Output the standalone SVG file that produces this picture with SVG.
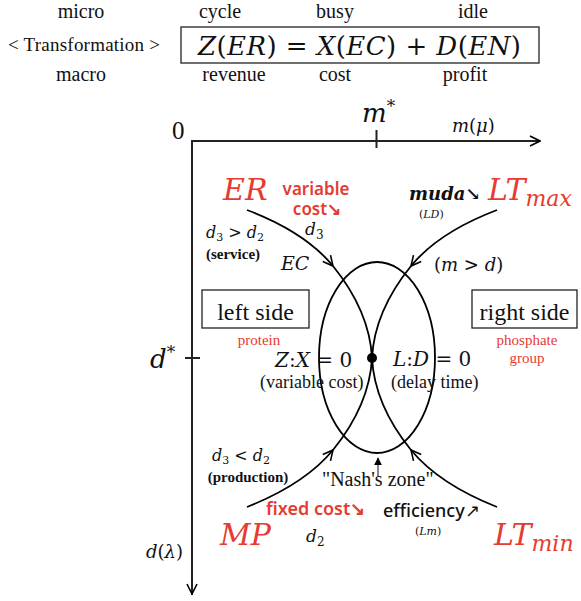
<svg xmlns="http://www.w3.org/2000/svg" width="581" height="601" viewBox="0 0 581 601">
<defs>
<marker id="open" viewBox="0 0 12 12" refX="11" refY="6" markerWidth="12" markerHeight="12" markerUnits="userSpaceOnUse" orient="auto">
<path d="M1,1 L11,6 L1,11" fill="none" stroke="#000" stroke-width="1.6"/>
</marker>
<marker id="small" viewBox="0 0 10 10" refX="9" refY="5" markerWidth="8" markerHeight="8" markerUnits="userSpaceOnUse" orient="auto">
<path d="M0,0 L10,5 L0,10 Z" fill="#000"/>
</marker>
</defs>
<style>
.s{font-family:"Liberation Serif","DejaVu Serif",serif;fill:#111}
.m{font-family:"DejaVu Serif","Liberation Serif",serif;font-style:italic;fill:#111}
.u{font-style:normal}
.r{fill:#e53b31}
.n{font-family:"Noto Sans","Liberation Sans",sans-serif}
.c{text-anchor:middle}
.ln{fill:none;stroke:#000;stroke-width:1.8}
.ax{fill:none;stroke:#222;stroke-width:2}
.box{fill:#fff;stroke:#222;stroke-width:1.3}
</style>

<g id="header">
<text class="s c" x="81" y="18" font-size="20">micro</text>
<text class="s c" x="220" y="18" font-size="20">cycle</text>
<text class="s c" x="335" y="18" font-size="20">busy</text>
<text class="s c" x="473" y="18" font-size="20">idle</text>
<text class="s" x="8" y="51" font-size="19" textLength="152">&lt; Transformation &gt;</text>
<rect class="box" x="181" y="27" width="358" height="36"/>
<text class="m" x="198" y="55" font-size="26" textLength="323"><tspan>Z</tspan><tspan class="u">(</tspan>ER<tspan class="u">) = </tspan>X<tspan class="u">(</tspan>EC<tspan class="u">) + </tspan>D<tspan class="u">(</tspan>EN<tspan class="u">)</tspan></text>
<text class="s c" x="81" y="81" font-size="20">macro</text>
<text class="s c" x="234" y="81" font-size="20">revenue</text>
<text class="s c" x="335" y="81" font-size="20">cost</text>
<text class="s c" x="465" y="81" font-size="20">profit</text>
</g>

<g id="axes">
<path class="ax" d="M192,595 L192,141 L540,141" marker-end="url(#open)"/>
<path class="ax" d="M192,150 L192,594" marker-end="url(#open)"/>
<line class="ax" x1="376.5" y1="130" x2="376.5" y2="148"/>
<line class="ax" x1="185" y1="358" x2="200" y2="358"/>
<text class="s" x="172" y="139" font-size="25">0</text>
<text class="m" x="362" y="122" font-size="26">m<tspan class="u" font-size="17" dy="-10">*</tspan></text>
<text class="m" x="452" y="132" font-size="18">m<tspan class="u">(</tspan>μ<tspan class="u">)</tspan></text>
<text class="m" x="150" y="368" font-size="26">d<tspan class="u" font-size="17" dy="-10">*</tspan></text>
<text class="m" x="146" y="558" font-size="18">d<tspan class="u">(</tspan>λ<tspan class="u">)</tspan></text>
</g>

<g id="connectors">
<ellipse class="ln" cx="377" cy="357.5" rx="58" ry="95.5"/>
<path class="ln" d="M247,210 Q305,232 333,266" marker-end="url(#open)"/>
<path class="ln" d="M333,266 C350,287 370,320 372,358 C374,396 394,429 411,450"/>
<path class="ln" d="M497,507 Q439,484 411,450" marker-end="url(#open)"/>
<path class="ln" d="M497,210 Q439,232 411,266" marker-end="url(#open)"/>
<path class="ln" d="M411,266 C394,287 374,320 372,358 C370,396 350,429 333,450"/>
<path class="ln" d="M247,507 Q305,484 333,450" marker-end="url(#open)"/>
<path d="M378,476 L378,458" stroke="#444" stroke-width="1.3" marker-end="url(#small)"/>
<circle cx="372" cy="358" r="5" fill="#000"/>
</g>

<g id="ER">
<text class="m r" x="223" y="200" font-size="30">ER</text>
<text class="n r c" font-size="17" font-weight="600"><tspan x="316" y="195">variable</tspan><tspan x="317" y="215">cost↘</tspan></text>
<text class="m" x="305" y="235" font-size="17">d<tspan class="u" font-size="12" dy="4">3</tspan></text>
<text class="m" x="206" y="238" font-size="16">d<tspan class="u" font-size="11" dy="3">3</tspan><tspan class="u" dy="-3"> &gt; </tspan>d<tspan class="u" font-size="11" dy="3">2</tspan></text>
<text class="s c" x="233" y="259" font-size="15" font-weight="bold">(service)</text>
<text class="m" x="281" y="270" font-size="19">EC</text>
</g>

<g id="LTmax">
<text class="m" x="409" y="200" font-size="18" font-weight="bold">muda<tspan class="u">↘</tspan></text>
<text class="m" x="419" y="218" font-size="11"><tspan class="u">(</tspan>LD<tspan class="u">)</tspan></text>
<text class="m r" x="488" y="200" font-size="30">LT<tspan font-size="22" dy="6">max</tspan></text>
<text class="m" x="434" y="271" font-size="18"><tspan class="u">(</tspan>m<tspan class="u"> &gt; </tspan>d<tspan class="u">)</tspan></text>
</g>

<g id="left-side">
<rect class="box" x="202" y="290" width="107" height="38"/>
<text class="s c" x="255.5" y="320" font-size="24">left side</text>
<text class="s r c" x="259" y="345" font-size="15">protein</text>
</g>

<g id="right-side">
<rect class="box" x="472" y="290" width="105" height="38"/>
<text class="s c" x="524.5" y="320" font-size="24">right side</text>
<text class="s r c" x="527" y="345" font-size="15">phosphate</text>
<text class="s r c" x="527" y="363" font-size="15">group</text>
</g>

<g id="center">
<text class="m" x="275" y="367" font-size="20">Z<tspan class="u">:</tspan>X<tspan class="u"> = 0</tspan></text>
<text class="s" x="260" y="388" font-size="18">(variable cost)</text>
<text class="m" x="393" y="366" font-size="20">L<tspan class="u">:</tspan>D<tspan class="u"> = 0</tspan></text>
<text class="s" x="391" y="388" font-size="18">(delay time)</text>
</g>

<g id="MP">
<text class="m" x="212" y="461" font-size="16">d<tspan class="u" font-size="11" dy="3">3</tspan><tspan class="u" dy="-3"> &lt; </tspan>d<tspan class="u" font-size="11" dy="3">2</tspan></text>
<text class="s c" x="248" y="482" font-size="15" font-weight="bold">(production)</text>
<text class="n r" x="266" y="515" font-size="18" font-weight="600">fixed cost↘</text>
<text class="m" x="306" y="542" font-size="17">d<tspan class="u" font-size="12" dy="4">2</tspan></text>
<text class="m r" x="220" y="545" font-size="30">MP</text>
</g>

<g id="nash">
<text class="s" x="322" y="486" font-size="20">"Nash's zone"</text>
</g>

<g id="LTmin">
<text class="n" x="383" y="517" font-size="18" font-weight="500" fill="#111">efficiency↗</text>
<text class="m" x="415" y="535" font-size="11"><tspan class="u">(</tspan>Lm<tspan class="u">)</tspan></text>
<text class="m r" x="494" y="545" font-size="30">LT<tspan font-size="22" dy="6">min</tspan></text>
</g>
</svg>
